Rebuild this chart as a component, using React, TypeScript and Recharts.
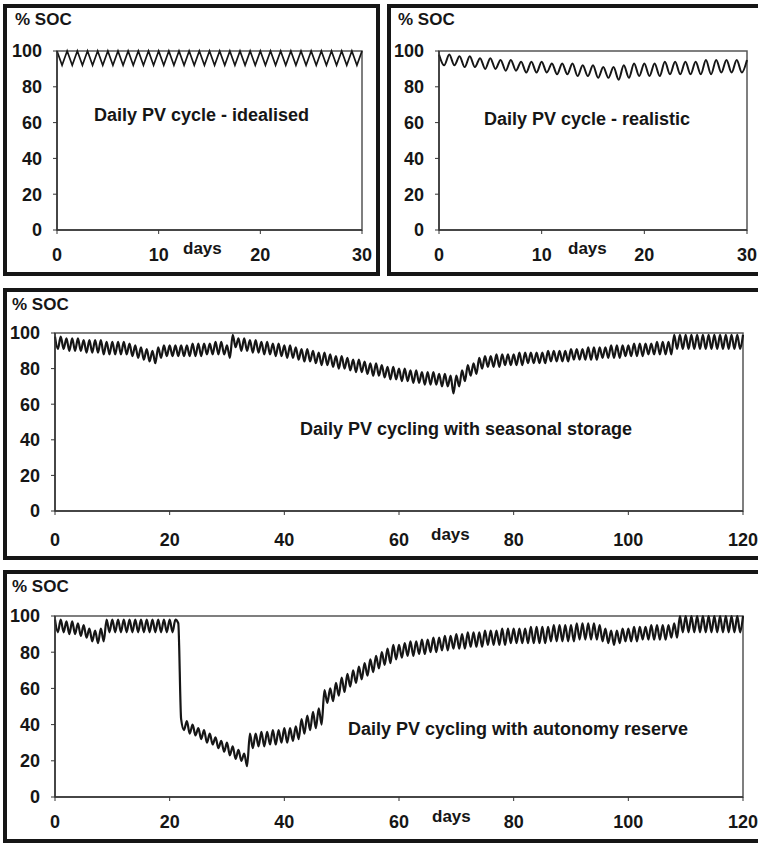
import { LineChart, Line, XAxis, YAxis, ReferenceArea } from 'recharts';

// daily peak / trough state of charge (%), one entry per day
const idealHigh = [
  100, 100, 100, 100, 100, 100, 100, 100, 100, 100,
  100, 100, 100, 100, 100, 100, 100, 100, 100, 100,
  100, 100, 100, 100, 100, 100, 100, 100, 100, 100,
];
const idealLow = [
  92, 92, 92, 92, 92, 92, 92, 92, 92, 92,
  92, 92, 92, 92, 92, 92, 92, 92, 92, 92,
  92, 92, 92, 92, 92, 92, 92, 92, 92, 92,
];

const realHigh = [
  98, 98, 97, 97, 96, 96, 95, 95, 94, 94,
  94, 93, 93, 93, 92, 92, 91, 91, 92, 93,
  93, 93, 94, 94, 94, 94, 95, 95, 95, 95,
];
const realLow = [
  92, 92, 91, 91, 90, 90, 89, 89, 88, 88,
  88, 87, 87, 86, 86, 85, 85, 84, 85, 86,
  86, 86, 87, 87, 87, 87, 87, 88, 88, 88,
];

const seasonalHigh = [
  98, 98, 97, 97, 97, 96, 96, 96, 96, 95,
  95, 95, 95, 94, 93, 92, 91, 90, 92, 93,
  93, 93, 93, 93, 94, 94, 94, 94, 95, 95,
  93, 99, 97, 97, 96, 96, 95, 95, 94, 94,
  93, 93, 92, 91, 91, 90, 89, 89, 88, 87,
  87, 86, 85, 85, 84, 83, 83, 82, 81, 81,
  80, 80, 79, 79, 78, 78, 78, 77, 77, 76,
  76, 79, 82, 83, 86, 87, 87, 88, 88, 88,
  88, 89, 89, 89, 89, 89, 90, 90, 90, 90,
  91, 91, 91, 92, 92, 92, 92, 93, 93, 93,
  93, 94, 94, 94, 94, 95, 95, 95, 99, 99,
  99, 99, 99, 99, 99, 99, 99, 99, 99, 99,
];
const seasonalLow = [
  91, 91, 90, 90, 90, 89, 89, 89, 88, 88,
  88, 88, 88, 87, 86, 85, 84, 83, 86, 87,
  87, 87, 87, 87, 87, 87, 88, 88, 88, 88,
  86, 92, 90, 90, 89, 89, 88, 88, 87, 87,
  86, 86, 85, 84, 84, 83, 82, 82, 81, 80,
  80, 79, 78, 78, 77, 76, 76, 75, 74, 74,
  73, 73, 72, 72, 71, 71, 71, 70, 70, 66,
  70, 73, 76, 77, 80, 81, 81, 81, 82, 82,
  82, 82, 83, 83, 83, 83, 84, 84, 84, 84,
  85, 85, 85, 85, 85, 86, 86, 86, 86, 87,
  87, 87, 87, 88, 88, 88, 88, 88, 91, 91,
  91, 91, 91, 91, 91, 91, 91, 91, 91, 91,
];

const reserveHigh = [
  98, 98, 97, 97, 96, 95, 93, 92, 93, 98,
  98, 98, 98, 98, 98, 98, 98, 98, 98, 98,
  98, 98, 43, 42, 40, 38, 37, 35, 33, 31,
  30, 28, 26, 24, 35, 35, 36, 36, 37, 37,
  38, 38, 39, 43, 45, 47, 49, 59, 60, 63,
  66, 68, 70, 72, 74, 76, 78, 80, 82, 84,
  84, 85, 86, 86, 87, 87, 88, 88, 89, 89,
  90, 90, 91, 91, 91, 92, 92, 92, 93, 93,
  93, 93, 93, 94, 94, 94, 94, 95, 95, 95,
  95, 96, 96, 96, 96, 95, 93, 92, 92, 93,
  93, 94, 94, 94, 95, 95, 95, 95, 96, 100,
  100, 100, 100, 100, 100, 100, 100, 100, 100, 100,
];
const reserveLow = [
  91, 91, 90, 90, 89, 88, 86, 85, 86, 91,
  91, 91, 91, 91, 91, 91, 91, 91, 91, 91,
  91, 96, 37, 35, 34, 32, 30, 29, 27, 25,
  23, 21, 20, 17, 27, 28, 28, 29, 29, 30,
  30, 31, 32, 35, 37, 38, 40, 52, 53, 56,
  58, 61, 63, 65, 67, 69, 71, 73, 74, 76,
  77, 78, 78, 79, 79, 80, 80, 81, 81, 82,
  82, 82, 83, 83, 83, 84, 84, 84, 84, 85,
  85, 85, 85, 85, 85, 85, 86, 86, 86, 86,
  86, 87, 87, 87, 87, 86, 85, 84, 85, 86,
  86, 86, 87, 87, 87, 87, 87, 88, 88, 91,
  91, 91, 91, 91, 91, 91, 91, 91, 91, 91,
];

const socTicks = [0, 20, 40, 60, 80, 100];
const monthTicks = [0, 10, 20, 30];
const seasonTicks = [0, 20, 40, 60, 80, 100, 120];

const FONT = '"Liberation Sans", Arial, Helvetica, sans-serif';
const INK = '#161616';

// peak at the start of each day, trough half a day later
function toSeries(highs: number[], lows: number[]) {
  const pts: { day: number; soc: number }[] = [];
  highs.forEach((h, i) => {
    pts.push({ day: i, soc: h });
    pts.push({ day: i + 0.5, soc: lows[i] });
  });
  pts.push({ day: highs.length, soc: highs[highs.length - 1] });
  return pts;
}

interface PanelProps {
  box: { left: number; top: number; width: number; height: number };
  highs: number[];
  lows: number[];
  xTicks: number[];
  yAxisWidth: number;
  marginTop: number;
  marginRight: number;
  xAxisHeight: number;
  xTickMargin: number;
  lineWidth: number;
  curve: 'linear' | 'monotone';
}

function Panel({ box, highs, lows, xTicks, yAxisWidth, marginTop, marginRight, xAxisHeight, xTickMargin, lineWidth, curve }: PanelProps) {
  const data = toSeries(highs, lows);
  const maxDay = highs.length;
  const tick = { fill: INK, fontSize: 18, fontWeight: 700, fontFamily: FONT };
  return (
    <div
      style={{
        position: 'absolute',
        left: box.left,
        top: box.top,
        width: box.width,
        height: box.height,
        border: `4px solid ${INK}`,
        boxSizing: 'border-box',
        background: '#fff',
      }}
    >
      <LineChart
        width={box.width - 8}
        height={box.height - 8}
        data={data}
        margin={{ top: marginTop, right: marginRight, bottom: 0, left: 0 }}
      >
        <XAxis
          type="number"
          dataKey="day"
          domain={[0, maxDay]}
          ticks={xTicks}
          interval={0}
          height={xAxisHeight}
          tick={tick}
          tickSize={4}
          tickMargin={xTickMargin}
          axisLine={{ stroke: '#333', strokeWidth: 1.5 }}
          tickLine={{ stroke: '#333' }}
        />
        <YAxis
          type="number"
          domain={[0, 100]}
          ticks={socTicks}
          interval={0}
          width={yAxisWidth}
          tick={tick}
          tickSize={4}
          tickMargin={11}
          axisLine={{ stroke: '#333', strokeWidth: 1.5 }}
          tickLine={{ stroke: '#333' }}
        />
        <ReferenceArea x1={0} x2={maxDay} y1={0} y2={100} fill="none" stroke="#555" strokeWidth={1.5} />
        <Line
          type={curve}
          dataKey="soc"
          stroke={INK}
          strokeWidth={lineWidth}
          dot={false}
          isAnimationActive={false}
        />
      </LineChart>
    </div>
  );
}

function Note({ left, top, size, children }: { left: number; top: number; size: number; children: string }) {
  return (
    <div
      style={{
        position: 'absolute',
        left,
        top,
        fontFamily: FONT,
        fontWeight: 700,
        fontSize: size,
        lineHeight: `${size}px`,
        color: INK,
        whiteSpace: 'nowrap',
      }}
    >
      {children}
    </div>
  );
}

export default function App() {
  return (
    <div style={{ position: 'absolute', left: 0, top: 0, width: 758, height: 844, overflow: 'hidden', background: '#fff' }}>
      <Panel
        box={{ left: 3, top: 4, width: 377, height: 272 }}
        highs={idealHigh}
        lows={idealLow}
        xTicks={monthTicks}
        yAxisWidth={50}
        marginTop={43}
        marginRight={14}
        xAxisHeight={42}
        xTickMargin={14}
        lineWidth={1.7}
        curve="linear"
      />
      <Panel
        box={{ left: 387, top: 4, width: 376, height: 272 }}
        highs={realHigh}
        lows={realLow}
        xTicks={monthTicks}
        yAxisWidth={48}
        marginTop={43}
        marginRight={12}
        xAxisHeight={42}
        xTickMargin={14}
        lineWidth={2}
        curve="monotone"
      />
      <Panel
        box={{ left: 3, top: 288, width: 760, height: 272 }}
        highs={seasonalHigh}
        lows={seasonalLow}
        xTicks={seasonTicks}
        yAxisWidth={48}
        marginTop={41}
        marginRight={16}
        xAxisHeight={45}
        xTickMargin={18}
        lineWidth={2.2}
        curve="monotone"
      />
      <Panel
        box={{ left: 3, top: 570, width: 760, height: 273 }}
        highs={reserveHigh}
        lows={reserveLow}
        xTicks={seasonTicks}
        yAxisWidth={48}
        marginTop={42}
        marginRight={16}
        xAxisHeight={42}
        xTickMargin={14}
        lineWidth={2.2}
        curve="monotone"
      />

      <Note left={15} top={11} size={17}>% SOC</Note>
      <Note left={94} top={106} size={18}>Daily PV cycle - idealised</Note>
      <Note left={183} top={240} size={17}>days</Note>

      <Note left={398} top={11} size={17}>% SOC</Note>
      <Note left={484} top={110} size={18}>Daily PV cycle - realistic</Note>
      <Note left={568} top={240} size={17}>days</Note>

      <Note left={12} top={296} size={17}>% SOC</Note>
      <Note left={300} top={420} size={18}>Daily PV cycling with seasonal storage</Note>
      <Note left={431} top={526} size={17}>days</Note>

      <Note left={12} top={578} size={17}>% SOC</Note>
      <Note left={348} top={720} size={18}>Daily PV cycling with autonomy reserve</Note>
      <Note left={432} top={808} size={17}>days</Note>
    </div>
  );
}
